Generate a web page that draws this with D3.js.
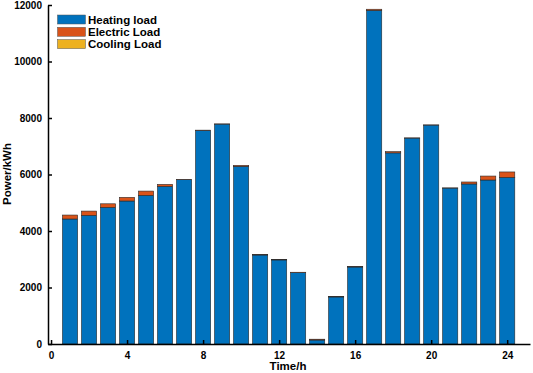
<!DOCTYPE html>
<html lang="en">
<head>
  <meta charset="UTF-8">
  <title>Load profile</title>
  <script src="https://d3js.org/d3.v7.min.js"></script>
  <style>
    body {
      margin: 0;
      background-color: #ffffff;
      font-family: Arial, "Liberation Sans", sans-serif;
    }
    svg { display: block; }
    .tick text { font-weight: bold; font-size: 10px; fill: #000; }
    .axis-label { font-weight: bold; font-size: 11.5px; fill: #000; }
    .legend text { font-weight: bold; font-size: 11.5px; fill: #000; }
  </style>
</head>
<body>
  <svg id="chart"></svg>
  <script>
    // Data
    const hours = d3.range(1, 25);
    const heatingLoad = [4425, 4555, 4838, 5062, 5263, 5581, 5820, 7560, 7785, 6290, 3150, 2975,
                         2525, 140, 1665, 2725, 11810, 6765, 7290, 7750, 5520, 5665, 5805, 5900];
    const electricLoad = [140, 150, 125, 130, 150, 70, 10, 10, 5, 35, 20, 15,
                          15, 30, 15, 15, 40, 45, 5, 5, 5, 70, 140, 190];
    const coolingLoad = [0, 0, 0, 0, 0, 0, 0, 0, 0, 0, 0, 0,
                         0, 0, 0, 0, 0, 0, 0, 0, 0, 0, 0, 0];
    const seriesNames = ["Heating load", "Electric Load", "Cooling Load"];
    const seriesColors = ["#0072BD", "#D95319", "#EDB120"];
    const xTicks = [0, 4, 8, 12, 16, 20, 24];
    const yTicks = [0, 2000, 4000, 6000, 8000, 10000, 12000];

    const W = 533, H = 373;
    const svg = d3.select("#chart").attr("width", W).attr("height", H);

    const x = d3.scaleLinear().domain([-0.16, 25.2]).range([48, 530]);
    const y = d3.scaleLinear().domain([0, 12000]).range([344, 5]);

    // stack the three series
    const table = hours.map((h, i) => ({
      hour: h,
      "Heating load": heatingLoad[i],
      "Electric Load": electricLoad[i],
      "Cooling Load": coolingLoad[i]
    }));
    const stacked = d3.stack().keys(seriesNames)(table);

    const barW = x(0.8) - x(0);

    svg.append("g")
      .selectAll("g")
      .data(stacked)
      .join("g")
        .attr("fill", (d, i) => seriesColors[i])
      .selectAll("rect")
      .data(d => d.filter(p => p[1] - p[0] > 0))
      .join("rect")
        .attr("x", d => x(d.data.hour) - barW / 2)
        .attr("y", d => y(d[1]))
        .attr("width", barW)
        .attr("height", d => y(d[0]) - y(d[1]))
        .attr("stroke", "#2b2b2b")
        .attr("stroke-width", 0.6);

    // Axes (MATLAB style, ticks inward)
    const xAxis = svg.append("g")
      .attr("transform", "translate(0,344)")
      .call(d3.axisBottom(x).tickValues(xTicks).tickFormat(d3.format("d"))
        .tickSizeInner(-4).tickSizeOuter(0).tickPadding(8));
    xAxis.select(".domain").attr("stroke", "#000").attr("stroke-width", 1.5);
    xAxis.selectAll(".tick line").attr("stroke-width", 1.5);

    const yAxis = svg.append("g")
      .attr("transform", "translate(48,0)")
      .call(d3.axisLeft(y).tickValues(yTicks).tickFormat(d3.format("d"))
        .tickSizeInner(-4).tickSizeOuter(0).tickPadding(6));
    yAxis.select(".domain").attr("stroke", "#000").attr("stroke-width", 1.5);
    yAxis.selectAll(".tick line").attr("stroke-width", 1.5);

    svg.append("text")
      .attr("class", "axis-label")
      .attr("x", 288)
      .attr("y", 370)
      .attr("text-anchor", "middle")
      .text("Time/h");

    svg.append("text")
      .attr("class", "axis-label")
      .attr("transform", "translate(11,174) rotate(-90)")
      .attr("text-anchor", "middle")
      .text("Power/kWh");

    // Legend
    const legend = svg.append("g").attr("class", "legend");
    seriesNames.forEach((name, i) => {
      const cy = 19.5 + i * 12.3;
      legend.append("rect")
        .attr("x", 57.5)
        .attr("y", cy - 4.5)
        .attr("width", 28)
        .attr("height", 9)
        .attr("fill", seriesColors[i])
        .attr("stroke", "#555")
        .attr("stroke-width", 0.5);
      legend.append("text")
        .attr("x", 88)
        .attr("y", cy + 4)
        .text(name);
    });
  </script>
</body>
</html>
